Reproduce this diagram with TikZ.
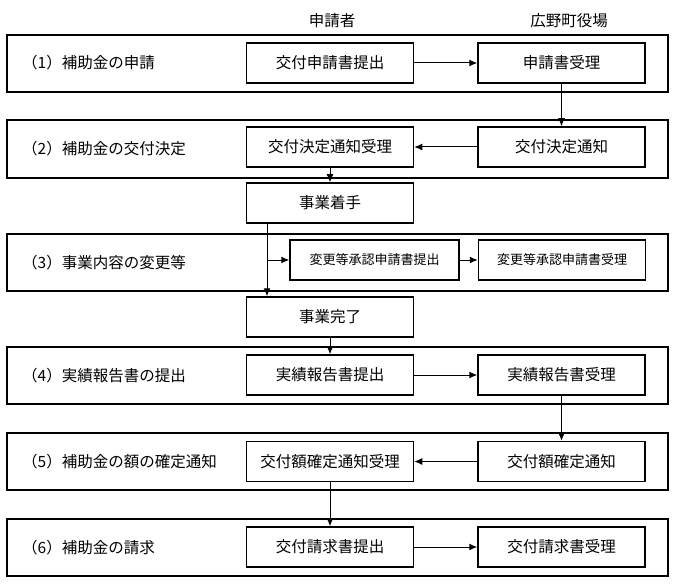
\documentclass[tikz,border=0pt]{standalone}
\usepackage{fontspec}
\setmainfont{Noto Sans CJK JP}
\usetikzlibrary{arrows.meta,positioning}
\tikzset{>={Latex[length=8pt,width=7pt]},
  band/.style={draw, line width=1.2pt},
  stepbox/.style={draw, line width=1.5pt, minimum width=167pt, minimum height=40pt,
    inner sep=0pt, font=\fontsize{15.5}{18}\selectfont},
  smallbox/.style={stepbox, minimum width=169pt, font=\fontsize{13}{16}\selectfont},
  label/.style={anchor=west, inner sep=0pt, font=\fontsize{15.5}{18}\selectfont},
  head/.style={inner sep=0pt, font=\fontsize{15.5}{18}\selectfont},
  flow/.style={->, line width=1pt}}

\begin{document}
\begin{tikzpicture}[x=1pt, y=-1pt]
  \useasboundingbox (0,0) rectangle (688,588);
  % bands
  \draw[band] (7,35)  rectangle (668,92);
  \draw[band] (7,120) rectangle (668,178);
  \draw[band] (7,234) rectangle (668,291);
  \draw[band] (7,347) rectangle (668,404);
  \draw[band] (7,433) rectangle (668,490);
  \draw[band] (7,519) rectangle (668,576);
  % headers
  \node[head] (applicant) at (332,21) {申請者};
  \node[head] (office) at (569,21) {広野町役場};
  % step labels
  \node[label] (l1) at (22,63)    {（1）補助金の申請};
  \node[label] (l2) at (22,149)   {（2）補助金の交付決定};
  \node[label] (l3) at (22,262.5) {（3）事業内容の変更等};
  \node[label] (l4) at (22,375.5) {（4）実績報告書の提出};
  \node[label] (l5) at (22,461.5) {（5）補助金の額の確定通知};
  \node[label] (l6) at (22,547.5) {（6）補助金の請求};
  % applicant side
  \node[stepbox] (apply)     at (330,63)   {交付申請書提出};
  \node[stepbox] (decrecv)   at (330,147)  {交付決定通知受理};
  \node[stepbox] (start)     at (330,203)  {事業着手};
  \node[stepbox] (finish)    at (330,317)  {事業完了};
  \node[stepbox] (report)    at (330,375)  {実績報告書提出};
  \node[stepbox] (amtrecv)   at (330,461.5){交付額確定通知受理};
  \node[stepbox] (claim)     at (330,547)  {交付請求書提出};
  \node[smallbox] (chgapply) at (374.5,260){変更等承認申請書提出};
  % office side
  \node[stepbox, right=63pt of apply]   (accept)    {申請書受理};
  \node[stepbox, right=63pt of decrecv] (decide)    {交付決定通知};
  \node[stepbox, right=63pt of report]  (repaccept) {実績報告書受理};
  \node[stepbox, right=63pt of amtrecv] (amount)    {交付額確定通知};
  \node[stepbox, right=63pt of claim]   (claimacc)  {交付請求書受理};
  \node[smallbox, minimum width=167pt, right=18pt of chgapply] (chgaccept) {変更等承認申請書受理};
  % flow
  \coordinate (fork) at ([xshift=-63pt]start.south);
  \draw[flow] (apply) -- (accept);
  \draw[flow] (accept) -- (decide);
  \draw[flow] (decide) -- (decrecv);
  \draw[flow] (decrecv) -- (start);
  \draw[flow] (fork) -- (fork |- finish.north);
  \draw[flow] (fork |- chgapply.west) -- (chgapply.west);
  \draw[flow] (chgapply) -- (chgaccept);
  \draw[flow] (finish) -- (report);
  \draw[flow] (report) -- (repaccept);
  \draw[flow] (repaccept) -- (amount);
  \draw[flow] (amount) -- (amtrecv);
  \draw[flow] (amtrecv) -- (claim);
  \draw[flow] (claim) -- (claimacc);
\end{tikzpicture}
\end{document}
